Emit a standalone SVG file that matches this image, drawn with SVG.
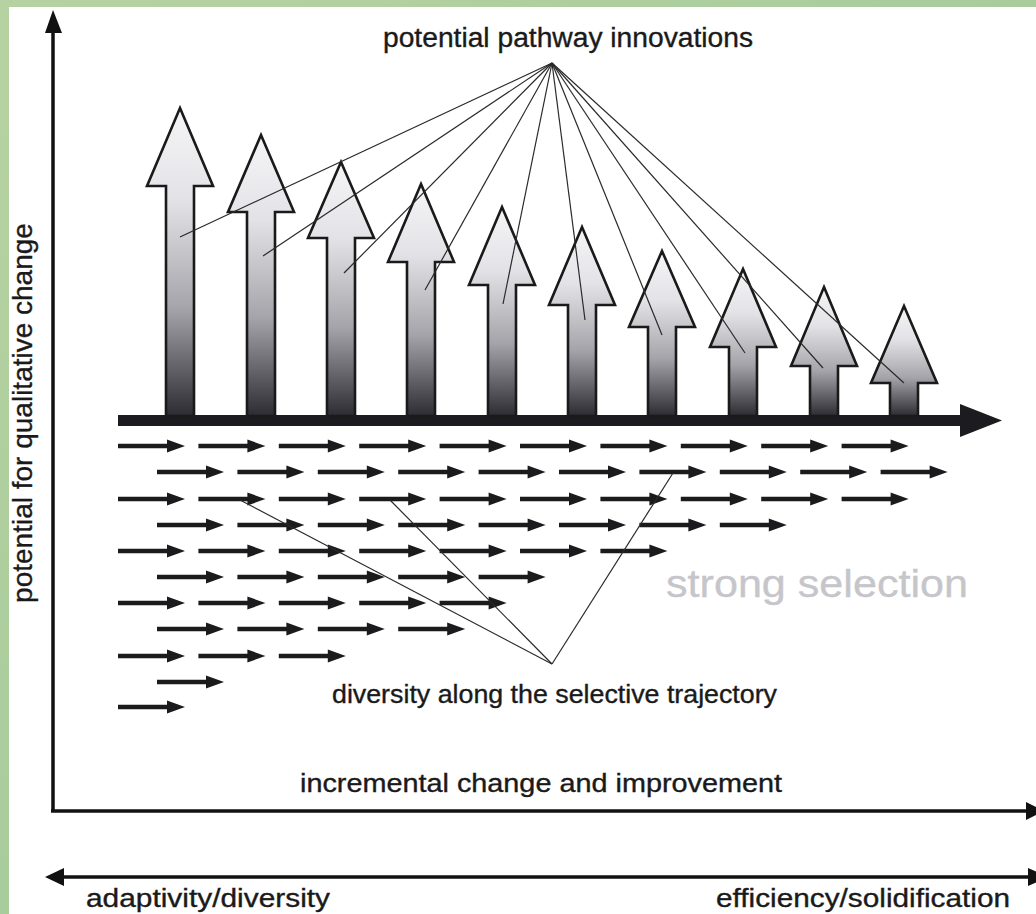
<svg xmlns="http://www.w3.org/2000/svg" xmlns:xlink="http://www.w3.org/1999/xlink" width="1036" height="914" viewBox="0 0 1036 914">
<defs>
<linearGradient id="bg" x1="0" y1="0" x2="1" y2="1">
<stop offset="0" stop-color="#b7d2a2"/>
<stop offset="0.5" stop-color="#a9cc9c"/>
<stop offset="1" stop-color="#b9d6ae"/>
</linearGradient>
<linearGradient id="ag" x1="0" y1="0" x2="0" y2="1">
<stop offset="0" stop-color="#f5f5f7"/>
<stop offset="0.3" stop-color="#e3e3e7"/>
<stop offset="0.65" stop-color="#a4a4aa"/>
<stop offset="1" stop-color="#2c2c32"/>
</linearGradient>
<g id="sa">
<line x1="0" y1="0" x2="52" y2="0" stroke="#1b1b1d" stroke-width="4.6"/>
<polygon points="49,-6.5 67,0 49,6.5" fill="#1b1b1d"/>
</g>
</defs>
<style>
.big{fill:url(#ag);stroke:#1a1a1a;stroke-width:2.6;stroke-linejoin:miter}
.fan{stroke:#2a2a2a;stroke-width:1.2;fill:none}
.ax{stroke:#111;stroke-width:3.5;fill:none}
.lbl{font-family:"Liberation Sans",Arial,sans-serif;fill:#1a1a1a;stroke:#1a1a1a;stroke-width:0.35}
</style>
<rect x="0" y="0" width="1036" height="914" fill="url(#bg)"/>
<rect x="9" y="7" width="1027" height="907" fill="#ffffff"/>

<g id="axes">
<line class="ax" x1="53" y1="28" x2="53" y2="812"/>
<polygon points="53,10 45,33 62,33" fill="#111"/>
<line class="ax" x1="51" y1="811" x2="1030" y2="811"/>
<polygon points="1044,811 1026,802 1026,820" fill="#111"/>
<line class="ax" x1="60" y1="877" x2="1030" y2="877"/>
<polygon points="45,877 64,868 64,886" fill="#111"/>
<polygon points="1048,877 1028,868 1028,886" fill="#111"/>
</g>

<g id="trajectory">
<rect x="118" y="415" width="846" height="11" fill="#1c1c20"/>
<polygon points="960,404 1002,420.5 960,437" fill="#1c1c20"/>
</g>

<g id="big-arrows">
<polygon class="big" points="180,108 213,186 194,186 194,416 166,416 166,186 147,186"/>
<polygon class="big" points="261,135 294,212 275,212 275,416 247,416 247,212 228,212"/>
<polygon class="big" points="341,162 374,238 355,238 355,416 327,416 327,238 308,238"/>
<polygon class="big" points="421,184 454,262 435,262 435,416 407,416 407,262 388,262"/>
<polygon class="big" points="502,207 535,285 516,285 516,416 488,416 488,285 469,285"/>
<polygon class="big" points="582,227 615,305 596,305 596,416 568,416 568,305 549,305"/>
<polygon class="big" points="662,251 695,327 676,327 676,416 648,416 648,327 629,327"/>
<polygon class="big" points="743,269 776,347 757,347 757,416 729,416 729,347 710,347"/>
<polygon class="big" points="824,287 857,366 838,366 838,416 810,416 810,366 791,366"/>
<polygon class="big" points="904,306 937,383 918,383 918,416 890,416 890,383 871,383"/>
</g>

<g id="small-arrows">
<use xlink:href="#sa" x="118" y="446"/><use xlink:href="#sa" x="198.4" y="446"/><use xlink:href="#sa" x="278.8" y="446"/><use xlink:href="#sa" x="359.2" y="446"/><use xlink:href="#sa" x="439.6" y="446"/><use xlink:href="#sa" x="520" y="446"/><use xlink:href="#sa" x="600.4" y="446"/><use xlink:href="#sa" x="680.8" y="446"/><use xlink:href="#sa" x="761.2" y="446"/><use xlink:href="#sa" x="841.6" y="446"/>
<use xlink:href="#sa" x="157" y="472"/><use xlink:href="#sa" x="237.4" y="472"/><use xlink:href="#sa" x="317.8" y="472"/><use xlink:href="#sa" x="398.2" y="472"/><use xlink:href="#sa" x="478.6" y="472"/><use xlink:href="#sa" x="559" y="472"/><use xlink:href="#sa" x="639.4" y="472"/><use xlink:href="#sa" x="719.8" y="472"/><use xlink:href="#sa" x="800.2" y="472"/><use xlink:href="#sa" x="880.6" y="472"/>
<use xlink:href="#sa" x="118" y="499"/><use xlink:href="#sa" x="198.4" y="499"/><use xlink:href="#sa" x="278.8" y="499"/><use xlink:href="#sa" x="359.2" y="499"/><use xlink:href="#sa" x="439.6" y="499"/><use xlink:href="#sa" x="520" y="499"/><use xlink:href="#sa" x="600.4" y="499"/><use xlink:href="#sa" x="680.8" y="499"/><use xlink:href="#sa" x="761.2" y="499"/><use xlink:href="#sa" x="841.6" y="499"/>
<use xlink:href="#sa" x="157" y="525"/><use xlink:href="#sa" x="237.4" y="525"/><use xlink:href="#sa" x="317.8" y="525"/><use xlink:href="#sa" x="398.2" y="525"/><use xlink:href="#sa" x="478.6" y="525"/><use xlink:href="#sa" x="559" y="525"/><use xlink:href="#sa" x="639.4" y="525"/><use xlink:href="#sa" x="719.8" y="525"/>
<use xlink:href="#sa" x="118" y="551"/><use xlink:href="#sa" x="198.4" y="551"/><use xlink:href="#sa" x="278.8" y="551"/><use xlink:href="#sa" x="359.2" y="551"/><use xlink:href="#sa" x="439.6" y="551"/><use xlink:href="#sa" x="520" y="551"/><use xlink:href="#sa" x="600.4" y="551"/>
<use xlink:href="#sa" x="157" y="577"/><use xlink:href="#sa" x="237.4" y="577"/><use xlink:href="#sa" x="317.8" y="577"/><use xlink:href="#sa" x="398.2" y="577"/><use xlink:href="#sa" x="478.6" y="577"/>
<use xlink:href="#sa" x="118" y="603"/><use xlink:href="#sa" x="198.4" y="603"/><use xlink:href="#sa" x="278.8" y="603"/><use xlink:href="#sa" x="359.2" y="603"/><use xlink:href="#sa" x="439.6" y="603"/>
<use xlink:href="#sa" x="157" y="629"/><use xlink:href="#sa" x="237.4" y="629"/><use xlink:href="#sa" x="317.8" y="629"/><use xlink:href="#sa" x="398.2" y="629"/>
<use xlink:href="#sa" x="118" y="656"/><use xlink:href="#sa" x="198.4" y="656"/><use xlink:href="#sa" x="278.8" y="656"/>
<use xlink:href="#sa" x="157" y="682"/>
<use xlink:href="#sa" x="118" y="707"/>
</g>

<g id="connectors">
<line class="fan" x1="552" y1="63" x2="180" y2="237"/>
<line class="fan" x1="552" y1="63" x2="263" y2="256"/>
<line class="fan" x1="552" y1="63" x2="344" y2="273"/>
<line class="fan" x1="552" y1="63" x2="425" y2="290"/>
<line class="fan" x1="552" y1="63" x2="503" y2="304"/>
<line class="fan" x1="552" y1="63" x2="585" y2="320"/>
<line class="fan" x1="552" y1="63" x2="662" y2="335"/>
<line class="fan" x1="552" y1="63" x2="745" y2="353"/>
<line class="fan" x1="552" y1="63" x2="823" y2="368"/>
<line class="fan" x1="552" y1="63" x2="904" y2="383"/>
<line class="fan" x1="552" y1="664" x2="240" y2="500"/>
<line class="fan" x1="552" y1="664" x2="390" y2="500"/>
<line class="fan" x1="552" y1="664" x2="673" y2="473"/>
</g>

<g id="labels">
<text class="lbl" x="383" y="47" font-size="27" textLength="370" lengthAdjust="spacingAndGlyphs">potential pathway innovations</text>
<text class="lbl" x="332" y="703" font-size="25" textLength="445" lengthAdjust="spacingAndGlyphs">diversity along the selective trajectory</text>
<text class="lbl" x="666" y="597" font-size="38" textLength="302" lengthAdjust="spacingAndGlyphs" style="fill:#c6c6ca;stroke:#c6c6ca">strong selection</text>
<text class="lbl" x="300" y="792" font-size="25" textLength="482" lengthAdjust="spacingAndGlyphs">incremental change and improvement</text>
<text class="lbl" x="86" y="907" font-size="25" textLength="244" lengthAdjust="spacingAndGlyphs">adaptivity/diversity</text>
<text class="lbl" x="716" y="907" font-size="25" textLength="294" lengthAdjust="spacingAndGlyphs">efficiency/solidification</text>
<text class="lbl" transform="translate(32,413) rotate(-90)" font-size="28" text-anchor="middle">potential for qualitative change</text>
</g>
</svg>
